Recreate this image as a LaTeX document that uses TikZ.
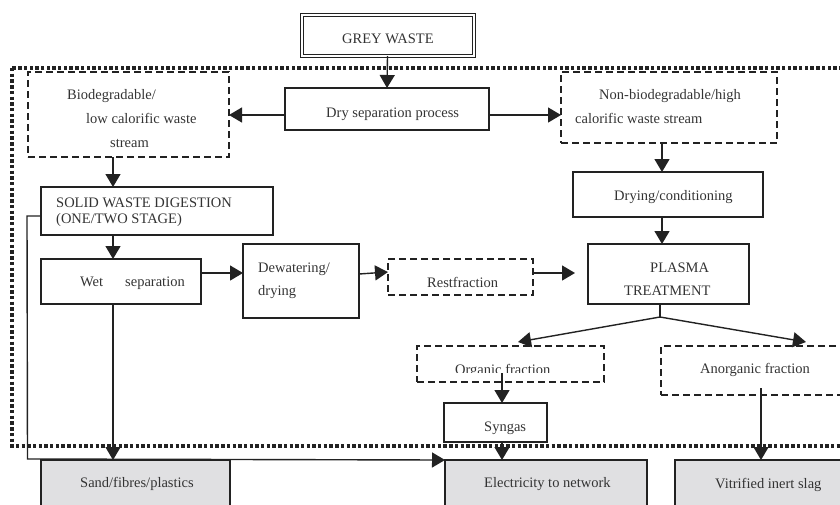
\documentclass[tikz,border=0pt]{standalone}
\usepackage{fontspec}
\setmainfont{Liberation Serif}
\usetikzlibrary{arrows.meta}
\definecolor{ink}{HTML}{222222}
\definecolor{txt}{HTML}{333333}
\definecolor{boxgrey}{HTML}{E0E0E2}
\tikzset{
  every picture/.style={x=1pt,y=-1pt},
  box/.style={draw=ink, line width=1.5pt, inner sep=0pt, outer sep=0pt},
  dbox/.style={draw=ink, line width=1.9pt, dash pattern=on 7pt off 4pt, inner sep=0pt, outer sep=0pt},
  gbox/.style={box, fill=boxgrey},
  lbl/.style={anchor=base west, inner sep=0pt, text=txt, font=\fontsize{14.5}{16}\selectfont},
  arr/.style={draw=ink, line width=1.4pt, -{Triangle[length=13pt,width=15pt]}},
  ln/.style={draw=ink, line width=1.4pt},
  dotborder/.style={draw=ink, line width=3.4pt, dash pattern=on 3.4pt off 2.3pt}
}
\begin{document}
\begin{tikzpicture}
\useasboundingbox (0,0) rectangle (840,504);
\clip (0,0) rectangle (840,504);
% dotted system border
\draw[dotborder] (12,68) rectangle (850,446);
% boxes
\node[draw=ink, line width=1pt, double, double distance=2pt, inner sep=0pt, minimum width=172pt, minimum height=41pt] (grey) at (387.5,35) {};
\node[box, minimum width=204pt, minimum height=42pt] (dry) at (387,109) {};
\node[dbox, minimum width=201pt, minimum height=85pt] (bio) at (128.5,114.5) {};
\node[dbox, minimum width=216pt, minimum height=71pt] (nonbio) at (669,107.5) {};
\node[box, minimum width=190pt, minimum height=45pt] (dryc) at (668,194.5) {};
\node[box, minimum width=161pt, minimum height=60pt] (plasma) at (668.5,274) {};
\node[box, minimum width=232pt, minimum height=48pt] (swd) at (157,211) {};
\node[box, minimum width=160pt, minimum height=45pt] (wet) at (121,281.5) {};
\node[box, minimum width=116pt, minimum height=74pt] (dew) at (301,281) {};
\node[dbox, minimum width=145pt, minimum height=36pt] (rest) at (460.5,277) {};
\node[dbox, minimum width=187pt, minimum height=36pt] (org) at (510.5,364) {};
\node[dbox, minimum width=239pt, minimum height=49pt] (anorg) at (780.5,370.5) {};
\node[box, minimum width=103pt, minimum height=39pt] (syngas) at (495.5,422.5) {};
\node[gbox, minimum width=202pt, minimum height=70pt] (elec) at (546,495) {};
\node[gbox, minimum width=225pt, minimum height=70pt] (vitr) at (787.5,495) {};
\node[gbox, minimum width=189pt, minimum height=70pt] (sand) at (135.5,495) {};
% texts
\node[lbl] (t-grey) at (342,43) {GREY WASTE};
\node[lbl] (t-dry) at (326,117) {Dry separation process};
\node[lbl] (t-bio1) at (67,99) {Biodegradable/};
\node[lbl] (t-bio2) at (86,123) {low calorific waste};
\node[lbl] (t-bio3) at (110,147) {stream};
\node[lbl] (t-nb1) at (599,99) {Non-biodegradable/high};
\node[lbl] (t-nb2) at (575,123) {calorific waste stream};
\node[lbl] (t-dryc) at (614,200) {Drying/conditioning};
\node[lbl] (t-pl1) at (650,272) {PLASMA};
\node[lbl] (t-pl2) at (624,295) {TREATMENT};
\node[lbl] (t-swd1) at (56,207) {SOLID WASTE DIGESTION};
\node[lbl] (t-swd2) at (56,223) {(ONE/TWO STAGE)};
\node[lbl] (t-wet1) at (80,286) {Wet};
\node[lbl] (t-wet2) at (125,286) {separation};
\node[lbl] (t-dew1) at (258,272) {Dewatering/};
\node[lbl] (t-dew2) at (258,295) {drying};
\node[lbl] (t-rest) at (427,287) {Restfraction};
\begin{scope}
\clip (400,340) rectangle (620,372.5);
\node[lbl] (t-org) at (455,374) {Organic fraction};
\end{scope}
\node[lbl] (t-anorg) at (700,373) {Anorganic fraction};
\node[lbl] (t-syn) at (484,431) {Syngas};
\node[lbl] (t-elec) at (484,487) {Electricity to network};
\node[lbl] (t-vitr) at (715,488) {Vitrified inert slag};
\node[lbl] (t-sand) at (80,487) {Sand/fibres/plastics};
% free ends
\coordinate (jn) at (660,317);
\coordinate (orgtip) at (518,342);
\coordinate (anorgtip) at (806,342);
\coordinate (orgsrc) at (502,373);
\coordinate (anorgsrc) at (761,388);
\coordinate (resttip) at (575,273);
\coordinate (bypass) at (27,216);
% connectors
\draw[arr] (grey.south) -- (dry.north);
\draw[arr] (dry.west |- 0,115) -- (bio.east |- 0,115);
\draw[arr] (dry.east |- 0,115) -- (nonbio.west |- 0,115);
\draw[arr] (nonbio.south -| 662,0) -- (dryc.north -| 662,0);
\draw[arr] (dryc.south -| 662,0) -- (plasma.north -| 662,0);
\draw[ln] (plasma.south -| jn) -- (jn);
\draw[arr] (jn) -- (orgtip);
\draw[arr] (jn) -- (anorgtip);
\draw[arr] (orgsrc) -- (syngas.north -| orgsrc);
\draw[arr] (syngas.south -| orgsrc) -- (elec.north -| orgsrc);
\draw[arr] (anorgsrc) -- (vitr.north -| anorgsrc);
\draw[arr] (bio.south -| 113,0) -- (swd.north -| 113,0);
\draw[arr] (swd.south -| 113,0) -- (wet.north -| 113,0);
\draw[arr] (wet.south -| 113,0) -- (sand.north -| 113,0);
\draw[arr] (wet.east |- 0,273) -- (dew.west |- 0,273);
\draw[arr] (dew.east |- 0,274) -- (rest.west |- 0,272);
\draw[arr] (rest.east |- 0,273) -- (resttip);
\draw[arr] (swd.west |- bypass) -- (bypass) -- (27.5,459) -- (elec.north west);
\end{tikzpicture}
\end{document}
